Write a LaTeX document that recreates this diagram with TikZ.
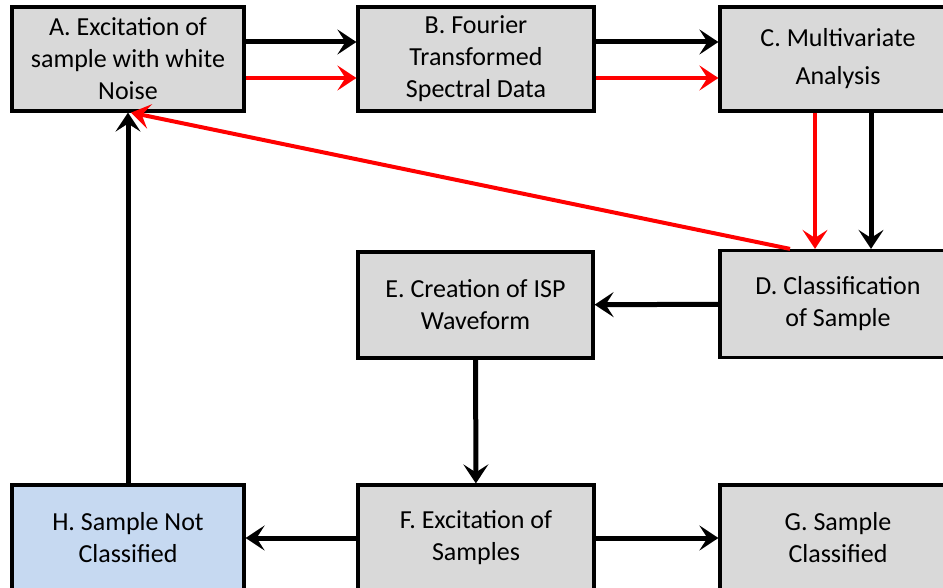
\documentclass[tikz,border=0pt]{standalone}
\usepackage{fontspec}
\setmainfont{Carlito}
\usepackage{tikz}
\usetikzlibrary{arrows.meta,positioning,calc}

\definecolor{boxgray}{HTML}{D9D9D9}
\definecolor{boxblue}{HTML}{C6D9F1}

\tikzset{
    stagebox/.style={draw=black,line width=3.2pt,fill=boxgray,align=center,
        inner sep=0pt,font=\fontsize{26}{32}\selectfont},
    flow/.style={line width=5pt,-{Stealth[length=19pt,width=25pt,inset=8pt]}},
    redflow/.style={red,line width=4pt,-{Stealth[length=19pt,width=25pt,inset=8pt]}}
}

\begin{document}
\begin{tikzpicture}[x=1pt,y=-1pt]
        \useasboundingbox (0,0) rectangle (943,588);

        % top row
        \node[stagebox,minimum width=232pt,minimum height=104pt] (excite) at (128,59) {A. Excitation of\\sample with white\\Noise};
        \node[stagebox,minimum width=236pt,minimum height=104pt] (fourier) at (476,59) {B. Fourier\\Transformed\\Spectral Data};
        \node[stagebox,minimum width=236pt,minimum height=104pt] (multi) at (838,59) {C. Multivariate\\[6pt]Analysis};

        % middle row
        \node[stagebox,minimum width=236pt,minimum height=107pt] (classify) at (838,304) {D. Classification\\of Sample};
        \node[stagebox,minimum width=235pt,minimum height=106pt] (isp) at (475.5,305) {E. Creation of ISP\\Waveform};

        % bottom row
        \node[stagebox,minimum width=236pt,minimum height=106pt] (samples) at (476,538) {F. Excitation of\\Samples};
        \node[stagebox,minimum width=236pt,minimum height=106pt] (done) at (838,538) {G. Sample\\Classified};
        \node[stagebox,fill=boxblue,minimum width=232pt,minimum height=106pt] (notdone) at (128,538) {H. Sample Not\\Classified};

        % black arcs
        \draw[flow] ([yshift=17pt]excite.east) -- ([yshift=17pt]fourier.west);
        \draw[flow] ([yshift=17pt]fourier.east) -- ([yshift=17pt]multi.west);
        \draw[flow] ([xshift=33pt]multi.south) -- ([xshift=33pt]classify.north);
        \draw[flow] (classify) -- (isp);
        \draw[flow] (isp) -- (samples);
        \draw[flow] (samples) -- (done);
        \draw[flow] (samples) -- (notdone);
        \draw[flow] (notdone) -- (excite);

        % red arcs
        \draw[redflow] ([yshift=-19pt]excite.east) -- ([yshift=-19pt]fourier.west);
        \draw[redflow] ([yshift=-19pt]fourier.east) -- ([yshift=-19pt]multi.west);
        \draw[redflow] ([xshift=-23pt]multi.south) -- ([xshift=-23pt]classify.north);
        \draw[redflow] ([xshift=-48pt]classify.north) -- ([xshift=3pt]excite.south);

    \end{tikzpicture}
\end{document}
